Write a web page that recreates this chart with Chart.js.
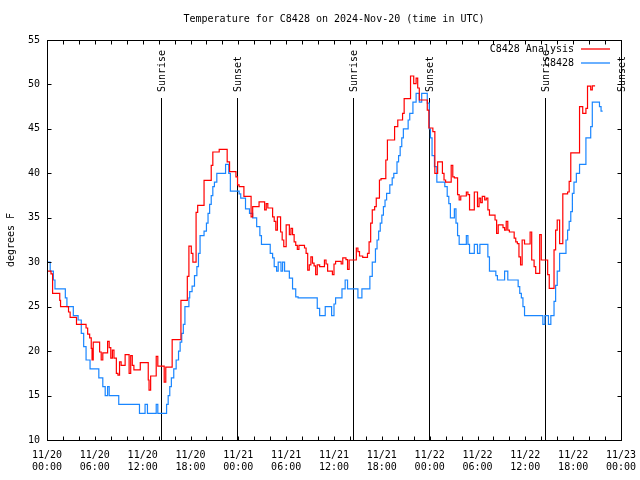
<!DOCTYPE html>
<html>
<head>
<meta charset="utf-8">
<script src="https://cdn.jsdelivr.net/npm/chart.js@4/dist/chart.umd.min.js"></script>
<style>
  body { margin: 0; background: #fff; }
  canvas { display: block; }
</style>
</head>
<body>
<canvas id="tempChart" width="640" height="480"></canvas>
<script>
const FONT = "'DejaVu Sans Mono', 'Liberation Mono', monospace";

// hours since 11/20 00:00 UTC
const xTickDates = ["11/20", "11/20", "11/20", "11/20", "11/21", "11/21", "11/21", "11/21", "11/22", "11/22", "11/22", "11/22", "11/23"];
const xTickTimes = ["00:00", "06:00", "12:00", "18:00", "00:00", "06:00", "12:00", "18:00", "00:00", "06:00", "12:00", "18:00", "00:00"];

const sunHours = [14.3, 23.83, 38.38, 47.92, 62.47, 71.95];
const sunLabels = ["Sunrise", "Sunset", "Sunrise", "Sunset", "Sunrise", "Sunset"];

const seriesNames = ["C8428 Analysis", "C8428"];
const seriesColors = ["#ff0000", "#1a86ff"];

const analysisHours = [0, 0.5, 0.7, 1.6, 1.7, 2.7, 2.9, 3.7, 4.9, 5.1, 5.35, 5.55, 5.65, 5.8, 6.6, 6.8, 7.0, 7.6, 7.8, 8.0,
  8.2, 8.4, 8.7, 8.9, 9.1, 9.3, 9.8, 10.3, 10.5, 10.7, 10.9, 11.7, 12.7, 12.8, 13.0, 13.7, 13.9, 14.7, 14.9, 15.7,
  16.8, 17.6, 17.8, 18.1, 18.3, 18.7, 18.9, 19.7, 20.6, 20.8, 21.6, 22.6, 22.9, 23.7, 23.9, 24.1, 24.7, 25.6, 25.8, 26.6,
  27.3, 27.5, 27.7, 28.3, 28.5, 28.7, 28.9, 29.3, 29.5, 29.7, 30.0, 30.4, 30.6, 30.8, 31.0, 31.2, 31.4, 31.6, 32.3, 32.5,
  32.7, 32.9, 33.1, 33.3, 33.5, 33.7, 33.9, 34.2, 34.8, 35.0, 35.2, 35.8, 36.0, 36.2, 36.9, 37.1, 37.5, 37.7, 37.9, 38.8,
  39.0, 39.2, 39.6, 40.2, 40.4, 40.6, 40.8, 41.1, 41.3, 41.7, 41.9, 42.5, 42.7, 43.6, 44.0, 44.6, 44.8, 45.6, 46.0, 46.3,
  46.5, 46.7, 47.7, 47.9, 48.4, 48.65, 49.0, 49.6, 49.8, 50.0, 50.7, 50.9, 51.1, 51.5, 51.7, 51.9, 52.6, 52.8, 53.0, 53.6,
  54.0, 54.2, 54.4, 54.6, 54.9, 55.1, 55.3, 55.5, 56.2, 56.4, 56.6, 57.2, 57.4, 57.6, 57.8, 58.0, 58.6, 58.8, 59.0, 59.2,
  59.4, 59.6, 59.9, 60.6, 60.8, 61.1, 61.3, 61.8, 62.0, 62.8, 63.0, 63.6, 63.8, 64.0, 64.3, 64.7, 65.3, 65.5, 65.7, 66.8,
  67.2, 67.6, 67.8, 68.2, 68.4, 68.75];
const analysisTemps = [29, 28.7, 26.5, 25.7, 25, 24.4, 23.8, 23, 22.6, 21.9, 21.5, 20.3, 19, 21, 19.9, 19, 19.8, 21.1, 20.4, 19.2,
  20.1, 19.2, 17.5, 17.3, 18.8, 18.4, 19.6, 17.5, 19.5, 18.4, 17.9, 18.7, 16.75, 15.6, 17.2, 19.4, 18.3, 16.5, 18.2, 21.3,
  25.7, 28.4, 31.8, 31, 30, 35.6, 36.4, 39.2, 40.9, 42.4, 42.7, 41.3, 40.2, 39.6, 38.7, 38.5, 37.4, 35.1, 36.25, 36.8,
  35.9, 36.6, 36.1, 35.1, 34.6, 33.6, 35.1, 33.4, 32.5, 31.75, 34.2, 33.1, 33.8, 33.1, 32.3, 31.9, 31.45, 31.9, 31.6, 31,
  29.1, 29.7, 30.6, 29.9, 29.6, 28.6, 29.7, 29.5, 30.25, 29.8, 29, 28.6, 29.8, 30.1, 29.8, 30.5, 30.3, 29.2, 30.25, 31.6,
  31.2, 30.7, 30.55, 31, 32.3, 34.4, 35.9, 36.25, 37.2, 39.25, 39.4, 41.5, 43.75, 45.25, 46, 46.75, 48.4, 50.95, 50.1, 50.7,
  49.6, 48.25, 47.1, 45.1, 44.7, 40, 41.3, 40, 39.25, 39, 40.9, 39.6, 39.5, 37.6, 37, 37.45, 37.9, 37.6, 35.9, 37.9,
  36.25, 37.2, 36.7, 37.4, 37, 37.2, 35.9, 35.3, 34.75, 33.25, 34.2, 33.9, 33.6, 34.6, 33.6, 33.4, 32.7, 32.3, 32.1, 30.6,
  29.7, 32.5, 32.05, 33.4, 30.25, 29.5, 28.75, 33.1, 30.25, 28.6, 27.05, 31.4, 33.6, 34.75, 32.1, 37.7, 37.9, 39.1, 42.3, 47.5,
  46.75, 47.3, 49.8, 49.4, 49.85, 49.85];

const obsHours = [0, 0.4, 0.8, 1.0, 2.3, 2.5, 3.3, 3.9, 4.3, 4.6, 4.9, 5.4, 6.5, 7.0, 7.3, 7.6, 7.8, 9.0, 11.6, 12.3,
  12.6, 13.7, 13.9, 15.0, 15.2, 15.4, 15.6, 15.9, 16.2, 16.5, 16.7, 16.9, 17.1, 17.3, 17.8, 17.9, 18.2, 18.5, 18.8, 19.0,
  19.2, 19.7, 20.0, 20.2, 20.4, 20.6, 20.8, 21.0, 21.3, 22.4, 22.8, 23.0, 24.1, 24.3, 24.9, 25.4, 25.8, 26.3, 26.7, 26.9,
  28.0, 28.3, 28.5, 28.8, 29.0, 29.35, 29.55, 29.8, 30.4, 30.8, 31.2, 31.5, 33.9, 34.2, 34.9, 35.7, 36.0, 36.2, 37.0, 37.4,
  37.7, 39.0, 39.5, 40.5, 40.8, 41.2, 41.4, 41.6, 41.8, 42.0, 42.2, 42.4, 42.6, 43.0, 43.3, 43.5, 43.9, 44.1, 44.3, 44.5,
  44.7, 45.3, 45.5, 45.9, 46.3, 46.7, 47.0, 47.7, 47.95, 48.1, 48.3, 48.6, 48.9, 49.9, 50.2, 50.4, 50.6, 51.1, 51.3, 51.5,
  51.7, 52.6, 52.8, 53.0, 53.6, 54.0, 54.3, 55.3, 55.5, 56.3, 56.5, 57.4, 57.8, 59.1, 59.3, 59.5, 59.7, 59.9, 62.2, 62.45,
  62.9, 63.2, 63.6, 63.8, 64.0, 64.3, 65.1, 65.3, 65.5, 65.7, 65.9, 66.1, 66.4, 66.8, 67.6, 68.2, 68.4, 69.3, 69.5, 69.7];
const obsTemps = [30, 29, 28, 27, 26, 25, 24, 23.5, 22, 20.5, 19, 18, 17, 16, 15, 16, 15, 14, 13, 14,
  13, 14, 13, 14, 15, 16, 17, 18, 19, 20, 21, 22, 23, 25, 26, 26.7, 27.3, 28.5, 29.5, 31,
  33, 33.5, 34.4, 35.5, 36.5, 37.5, 38.5, 39, 40, 41, 40, 38, 37.7, 37.2, 36, 35.5, 35, 34, 33, 32,
  31, 30.5, 29.5, 29, 30, 29, 30, 29, 28.2, 27, 26.1, 26, 24.8, 24, 25, 24, 25.3, 26, 27, 28,
  27, 26, 27, 28.4, 30, 31.5, 32.5, 33.5, 34.4, 35.3, 36.25, 37, 37.75, 38.7, 39.5, 40, 41.3, 42, 43, 44,
  45, 46, 46.75, 48, 49, 48, 49, 47.9, 45, 44, 42, 40.75, 39, 38.5, 37.4, 36.6, 35, 36, 34.4, 33,
  32, 33, 32, 31, 32, 31, 32, 30.6, 29, 28.5, 28, 29, 28, 27.25, 26.5, 26, 25, 24, 23, 24,
  23, 24, 25.6, 27.4, 29, 31, 32.5, 33.6, 34.6, 35.7, 37.75, 39, 40, 41, 44, 45.25, 48, 47.5, 47, 47];

const toPoints = (xs, ys) => xs.map((x, i) => ({ x: x, y: ys[i] }));

const gnuplotFrame = {
  id: 'gnuplotFrame',
  beforeDatasetsDraw(chart) {
    const ctx = chart.ctx;
    const xs = chart.scales.x;
    const a = chart.chartArea;
    ctx.save();
    ctx.strokeStyle = '#000';
    ctx.lineWidth = 1;
    ctx.fillStyle = '#000';
    ctx.font = '10px ' + FONT;
    sunHours.forEach((h, i) => {
      const px = Math.round(xs.getPixelForValue(h)) + 0.5;
      ctx.beginPath();
      ctx.moveTo(px, 98);
      ctx.lineTo(px, a.bottom);
      ctx.stroke();
      ctx.save();
      ctx.translate(px + 1, 92);
      ctx.rotate(-Math.PI / 2);
      ctx.textAlign = 'left';
      ctx.textBaseline = 'middle';
      ctx.fillText(sunLabels[i], 0, 0);
      ctx.restore();
    });
    ctx.restore();
  },
  afterDatasetsDraw(chart) {
    const ctx = chart.ctx;
    const a = chart.chartArea;
    const xs = chart.scales.x;
    const ys = chart.scales.y;
    ctx.save();
    ctx.strokeStyle = '#000';
    ctx.lineWidth = 1;
    const l = Math.round(a.left) + 0.5, r = Math.round(a.right) + 0.5;
    const t = Math.round(a.top) + 0.5, b = Math.round(a.bottom) + 0.5;
    ctx.strokeRect(l, t, r - l, b - t);
    ctx.beginPath();
    xs.ticks.forEach(tk => {
      const px = Math.round(xs.getPixelForValue(tk.value)) + 0.5;
      ctx.moveTo(px, b); ctx.lineTo(px, b - 4);
      ctx.moveTo(px, t); ctx.lineTo(px, t + 4);
    });
    ys.ticks.forEach(tk => {
      const py = Math.round(ys.getPixelForValue(tk.value)) + 0.5;
      ctx.moveTo(l, py); ctx.lineTo(l + 4, py);
      ctx.moveTo(r, py); ctx.lineTo(r - 4, py);
    });
    ctx.stroke();

    // title
    ctx.fillStyle = '#000';
    ctx.font = '10px ' + FONT;
    ctx.textAlign = 'center';
    ctx.textBaseline = 'middle';
    ctx.fillText('Temperature for C8428 on 2024-Nov-20 (time in UTC)', (a.left + a.right) / 2, 19);

    // legend, gnuplot style: text then sample line
    ctx.textAlign = 'right';
    ctx.lineWidth = 1.3;
    seriesNames.forEach((name, i) => {
      const y = 49 + i * 14;
      ctx.fillStyle = '#000';
      ctx.fillText(name, 574, y);
      ctx.strokeStyle = seriesColors[i];
      ctx.beginPath();
      ctx.moveTo(581, y);
      ctx.lineTo(610, y);
      ctx.stroke();
    });
    ctx.restore();
  }
};

new Chart(document.getElementById('tempChart'), {
  type: 'line',
  data: {
    datasets: [{
      label: seriesNames[0],
      data: toPoints(analysisHours, analysisTemps),
      borderColor: seriesColors[0],
      borderWidth: 1.2,
      pointRadius: 0,
      stepped: true,
      fill: false
    }, {
      label: seriesNames[1],
      data: toPoints(obsHours, obsTemps),
      borderColor: seriesColors[1],
      borderWidth: 1.2,
      pointRadius: 0,
      stepped: true,
      fill: false
    }]
  },
  options: {
    responsive: false,
    animation: false,
    devicePixelRatio: 1,
    layout: { padding: { top: 40, right: 19, left: 0, bottom: 0 } },
    plugins: {
      legend: { display: false },
      title: { display: false },
      tooltip: { enabled: false }
    },
    scales: {
      x: {
        type: 'linear',
        min: 0,
        max: 72,
        grid: { display: false, drawTicks: false },
        border: { display: false },
        afterFit: (s) => { s.height = 40; s.paddingLeft = 0; s.paddingRight = 0; },
        ticks: {
          stepSize: 2,
          autoSkip: false,
          maxRotation: 0,
          padding: 9,
          color: '#000',
          font: { family: FONT, size: 10, lineHeight: 1.25 },
          callback: (v) => (v % 6 === 0) ? [xTickDates[v / 6], xTickTimes[v / 6]] : ''
        }
      },
      y: {
        min: 10,
        max: 55,
        grid: { display: false, drawTicks: false },
        border: { display: false },
        afterFit: (s) => { s.width = 47; },
        title: {
          display: true,
          text: 'degrees F',
          color: '#000',
          font: { family: FONT, size: 10 },
          padding: { top: 5, bottom: 0 }
        },
        ticks: {
          stepSize: 5,
          padding: 7,
          color: '#000',
          font: { family: FONT, size: 10 }
        }
      }
    }
  },
  plugins: [gnuplotFrame]
});
</script>
</body>
</html>
